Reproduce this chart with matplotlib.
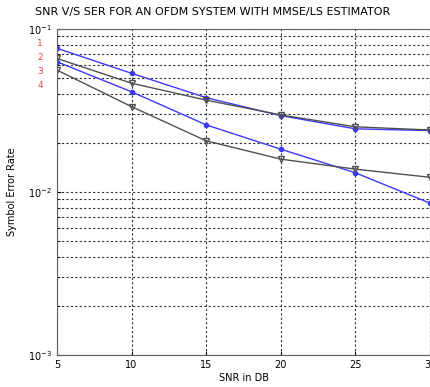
import matplotlib
matplotlib.use("Agg")
import matplotlib.pyplot as plt
from matplotlib.ticker import LogLocator, NullFormatter

# SNR values (dB)
snr = [5, 10, 15, 20, 25, 30]

# symbol error rates
ser_blue1 = [0.0762, 0.0535, 0.0379, 0.0294, 0.0244, 0.0238]
ser_black1 = [0.066, 0.0465, 0.0366, 0.0297, 0.0251, 0.0240]
ser_blue2 = [0.063, 0.0412, 0.0258, 0.0183, 0.0131, 0.00853]
ser_black2 = [0.056, 0.0334, 0.0206, 0.0159, 0.0138, 0.0123]

red_labels = ["1", "2", "3", "4"]

fig = plt.figure(figsize=(4.31, 3.87), dpi=100)
ax = fig.add_axes([0.132, 0.083, 0.866, 0.842])

gray = "#505050"
blue = "#3a3aff"
ax.semilogy(snr, ser_blue1, color=blue, lw=1, marker="o", ms=3)
ax.semilogy(snr, ser_black1, color=gray, lw=1, marker="v", ms=4, mfc="none")
ax.semilogy(snr, ser_blue2, color=blue, lw=1, marker="o", ms=3)
ax.semilogy(snr, ser_black2, color=gray, lw=1, marker="v", ms=4, mfc="none")

ax.set_xlim(5, 30)
ax.set_ylim(1e-3, 1e-1)
ax.set_xticks(snr)
ax.yaxis.set_minor_locator(LogLocator(base=10, subs=range(2, 10)))
ax.yaxis.set_minor_formatter(NullFormatter())
ax.grid(True, which="major", ls=(0, (2, 2)), color="#333333", lw=0.8)
ax.grid(True, which="minor", axis="y", ls=(0, (2, 2)), color="#333333", lw=0.8)
ax.tick_params(labelsize=7, direction="in", length=3)
ax.tick_params(which="minor", length=2, direction="in")
for s in ax.spines.values():
    s.set_color("#606060")

ax.set_xlabel("SNR in DB", fontsize=7, labelpad=2)
ax.set_ylabel("Symbol Error Rate", fontsize=7, labelpad=8)
fig.text(0.081, 0.968, "SNR V/S SER FOR AN OFDM SYSTEM WITH MMSE/LS ESTIMATOR",
         fontsize=8, ha="left", va="center")

for i, t in enumerate(red_labels):
    fig.text(0.093, 1 - (43 + 14 * i) / 387, t, color="#ff4040",
             fontsize=6.5, ha="center", va="center")

fig.savefig("out.png", dpi=100)
